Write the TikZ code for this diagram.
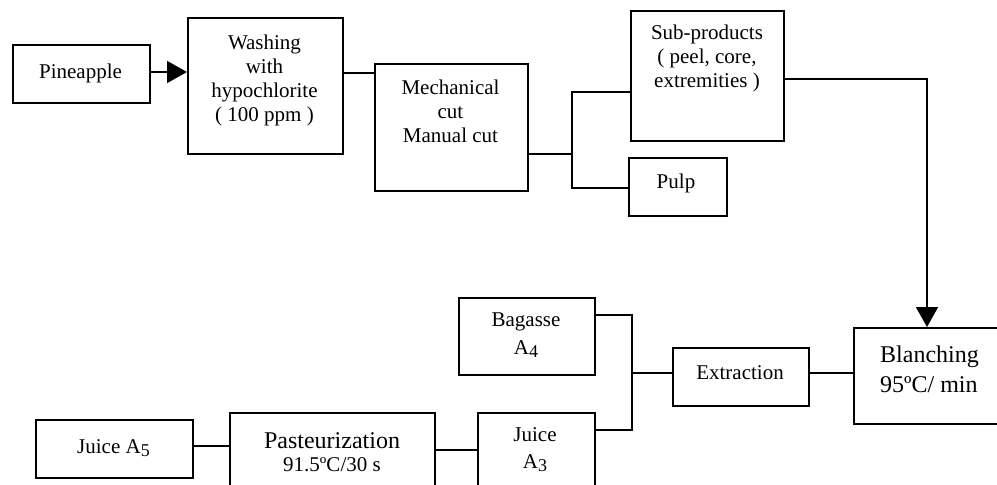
\documentclass[tikz,border=0pt]{standalone}
\usepackage{fontspec}
\setmainfont{Liberation Serif}
\usetikzlibrary{arrows.meta}
\tikzset{
  boxnode/.style={draw, line width=2pt, rectangle, inner sep=0pt, anchor=north west},
  txt/.style={align=center, inner sep=0pt, font=\fontsize{21}{24}\selectfont},
  bigtxt/.style={inner sep=0pt, font=\fontsize{24}{30}\selectfont},
  conn/.style={line width=1.6pt},
  arr/.style={line width=1.6pt, -{Triangle[length=20pt,width=22pt]}}
}
\newcommand{\sbs}[1]{{\fontsize{18}{18}\selectfont\raisebox{-0.35ex}{#1}}}
\begin{document}
\begin{tikzpicture}[x=1pt,y=-1pt]
\clip (0,0) rectangle (997,485);
\useasboundingbox (0,0) rectangle (997,485);
% boxes
\node[boxnode, minimum width=137pt, minimum height=58pt] (pine) at (12,44) {};
\node[boxnode, minimum width=155pt, minimum height=136pt] (wash) at (187,17) {};
\node[boxnode, minimum width=153pt, minimum height=127pt] (mech) at (374,63) {};
\node[boxnode, minimum width=153pt, minimum height=130pt] (sub) at (630,10) {};
\node[boxnode, minimum width=98pt, minimum height=58pt] (pulp) at (628,157) {};
\node[boxnode, minimum width=160pt, minimum height=96pt] (blanch) at (853,327) {};
\node[boxnode, minimum width=136pt, minimum height=58pt] (extr) at (672,347) {};
\node[boxnode, minimum width=136pt, minimum height=77pt] (bag) at (458,297) {};
\node[boxnode, minimum width=117pt, minimum height=100pt] (juice3) at (477,412) {};
\node[boxnode, minimum width=205pt, minimum height=100pt] (past) at (229,412) {};
\node[boxnode, minimum width=157pt, minimum height=58pt] (juice5) at (35,419) {};
% texts
\node[txt] (pineT) at (80.5,73) {Pineapple};
\node[txt] (washT) at (264.5,80) {Washing\\with\\hypochlorite\\( 100 ppm )};
\node[txt] (mechT) at (450.5,111) {Mechanical\\cut\\Manual cut};
\node[txt] (subT) at (707,58) {Sub-products\\( peel, core,\\extremities )};
\node[txt] (pulpT) at (676,183) {Pulp};
\node[bigtxt, anchor=west, align=left] (blanchT) at (880,369) {Blanching\\95ºC/ min};
\node[txt] (extrT) at (740,373) {Extraction};
\node[txt, font=\fontsize{21}{28}\selectfont] (bagT) at (526,335) {Bagasse\\A\sbs{4}};
\node[txt, font=\fontsize{21}{27}\selectfont] (juice3T) at (535,450) {Juice\\A\sbs{3}};
\node[bigtxt, align=center] (pastT) at (332,441) {Pasteurization};
\node[txt] (pastT2) at (332,465) {91.5ºC/30 s};
\node[txt] (juice5T) at (113.5,448) {Juice A\sbs{5}};
% junction coordinates
\coordinate (jA) at (572,154);
\coordinate (jB) at (927,79);
\coordinate (jC) at (632,373);
% connectors
\draw[arr] (pine.east |- 0,72) -- (wash.west |- 0,72);
\draw[conn] (wash.east |- 0,73) -- (mech.west |- 0,73);
\draw[conn] (mech.east |- jA) -- (jA);
\draw[conn] (sub.west |- 0,92) -| (jA) |- (pulp.west |- 0,188);
\draw[arr] (sub.east |- jB) -- (jB) -- (blanch.north -| jB);
\draw[conn] (extr.east |- 0,373) -- (blanch.west |- 0,373);
\draw[conn] (bag.east |- 0,315) -| (jC) |- (juice3.east |- 0,430);
\draw[conn] (jC) -- (extr.west |- jC);
\draw[conn] (past.east |- 0,450) -- (juice3.west |- 0,450);
\draw[conn] (juice5.east |- 0,446) -- (past.west |- 0,446);
\end{tikzpicture}
\end{document}
